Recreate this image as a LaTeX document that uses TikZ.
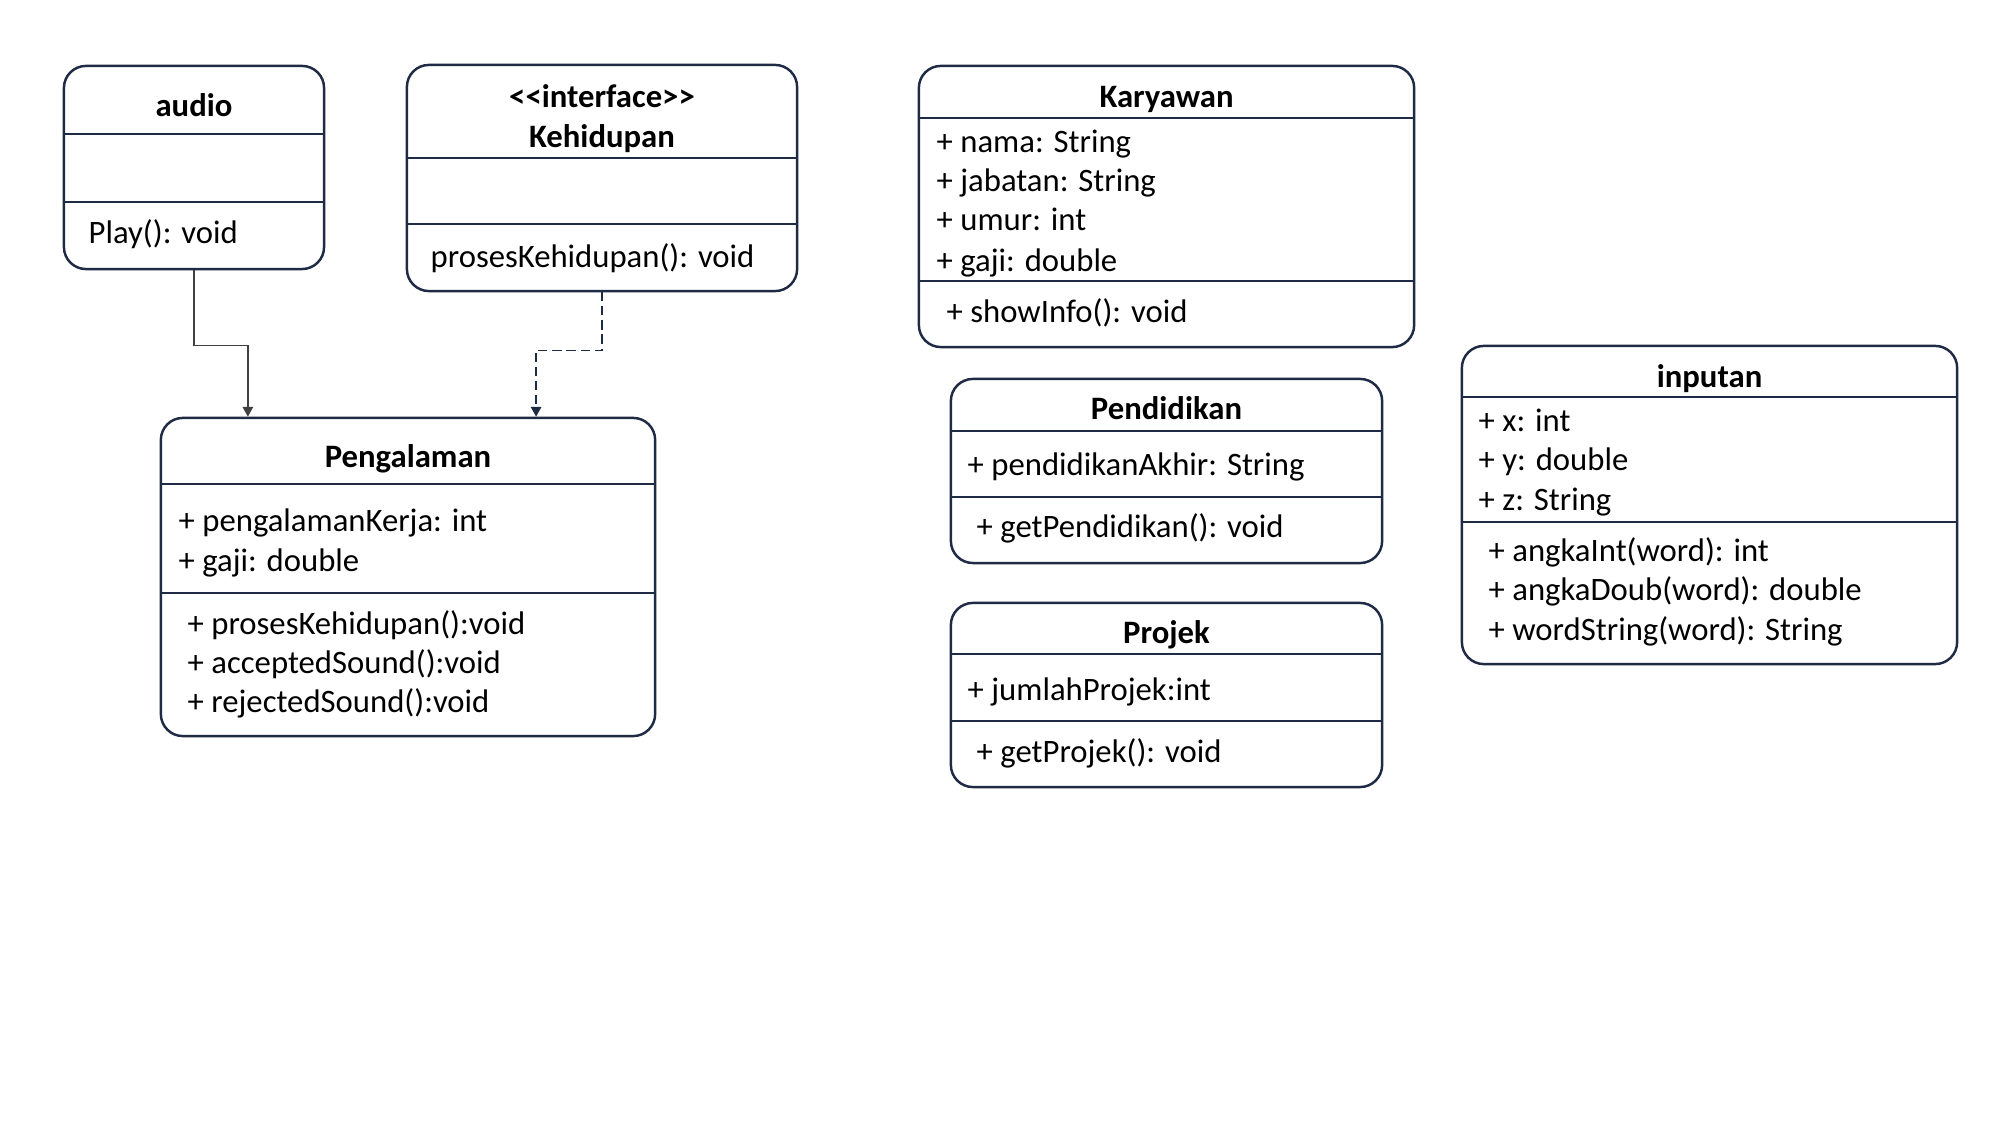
\documentclass[tikz,border=0pt]{standalone}
\usepackage{fontspec}
\setmainfont{Carlito}
\usetikzlibrary{arrows.meta}
\definecolor{umlline}{HTML}{1F2A44}
\begin{document}
\begin{tikzpicture}[x=0.01cm, y=-0.01cm,
    every node/.style={font=\fontsize{9.3}{11.2}\selectfont},
    class/.style={draw=umlline, line width=0.7pt, rounded corners=0.22cm, inner sep=0},
    divider/.style={draw=umlline, line width=0.7pt},
    classname/.style={font=\fontsize{9.3}{11.2}\selectfont\bfseries, inner sep=0, yshift=-0.8pt},
    member/.style={anchor=west, inner sep=0, yshift=-0.8pt},
    link/.style={draw=black!75, line width=0.4pt, -{Triangle[length=2.8pt,width=3pt]}},
    realize/.style={draw=umlline, line width=0.4pt, dash pattern=on 2.6pt off 1.4pt,
      -{Triangle[length=2.8pt,width=3pt]}}]
  \useasboundingbox (0,0) rectangle (2000,1125);
  % audio
  \node[class, minimum width=2.60cm, minimum height=2.03cm] (audio) at (194,167.5) {};
  \draw[divider] (audio.west |- 0,134) -- (audio.east |- 0,134);
  \draw[divider] (audio.west |- 0,202) -- (audio.east |- 0,202);
  \node[classname] (audio-t) at (194,106) {\strut{}audio};
  \node[member] (audio-m1) at (88,233) {\strut{}Play(): void};
  % interface Kehidupan
  \node[class, minimum width=3.90cm, minimum height=2.26cm] (kehidupan) at (602,178) {};
  \draw[divider] (kehidupan.west |- 0,158) -- (kehidupan.east |- 0,158);
  \draw[divider] (kehidupan.west |- 0,224) -- (kehidupan.east |- 0,224);
  \node[classname] (kehidupan-s) at (602,97) {\strut{}<\kern0pt<interface>\kern0pt>};
  \node[classname] (kehidupan-t) at (602,137) {\strut{}Kehidupan};
  \node[member] (kehidupan-m1) at (430,257) {\strut{}prosesKehidupan(): void};
  % Pengalaman
  \node[class, minimum width=4.94cm, minimum height=3.18cm] (pengalaman) at (408,577) {};
  \draw[divider] (pengalaman.west |- 0,484) -- (pengalaman.east |- 0,484);
  \draw[divider] (pengalaman.west |- 0,593) -- (pengalaman.east |- 0,593);
  \node[classname] (pengalaman-t) at (408,457) {\strut{}Pengalaman};
  \node[member] (pengalaman-a1) at (178,521) {\strut{}+ pengalamanKerja: int};
  \node[member] (pengalaman-a2) at (178,561) {\strut{}+ gaji: double};
  \node[member] (pengalaman-m1) at (187,624) {\strut{}+ prosesKehidupan():void};
  \node[member] (pengalaman-m2) at (187,663) {\strut{}+ acceptedSound():void};
  \node[member] (pengalaman-m3) at (187,702) {\strut{}+ rejectedSound():void};
  % Karyawan
  \node[class, minimum width=4.95cm, minimum height=2.81cm] (karyawan) at (1166.5,206.5) {};
  \draw[divider] (karyawan.west |- 0,118) -- (karyawan.east |- 0,118);
  \draw[divider] (karyawan.west |- 0,281) -- (karyawan.east |- 0,281);
  \node[classname] (karyawan-t) at (1166.5,97) {\strut{}Karyawan};
  \node[member] (karyawan-a1) at (936,142) {\strut{}+ nama: String};
  \node[member] (karyawan-a2) at (936,181) {\strut{}+ jabatan: String};
  \node[member] (karyawan-a3) at (936,220) {\strut{}+ umur: int};
  \node[member] (karyawan-a4) at (936,261) {\strut{}+ gaji: double};
  \node[member] (karyawan-m1) at (946,312) {\strut{}+ showInfo(): void};
  % Pendidikan
  \node[class, minimum width=4.31cm, minimum height=1.84cm] (pendidikan) at (1166.5,471) {};
  \draw[divider] (pendidikan.west |- 0,431) -- (pendidikan.east |- 0,431);
  \draw[divider] (pendidikan.west |- 0,497) -- (pendidikan.east |- 0,497);
  \node[classname] (pendidikan-t) at (1166.5,409) {\strut{}Pendidikan};
  \node[member] (pendidikan-a1) at (967,465) {\strut{}+ pendidikanAkhir: String};
  \node[member] (pendidikan-m1) at (976,527) {\strut{}+ getPendidikan(): void};
  % Projek
  \node[class, minimum width=4.31cm, minimum height=1.84cm] (projek) at (1166.5,695) {};
  \draw[divider] (projek.west |- 0,654) -- (projek.east |- 0,654);
  \draw[divider] (projek.west |- 0,721) -- (projek.east |- 0,721);
  \node[classname] (projek-t) at (1166.5,633) {\strut{}Projek};
  \node[member] (projek-a1) at (967,690) {\strut{}+ jumlahProjek:int};
  \node[member] (projek-m1) at (976,752) {\strut{}+ getProjek(): void};
  % inputan
  \node[class, minimum width=4.95cm, minimum height=3.18cm] (inputan) at (1709.5,505) {};
  \draw[divider] (inputan.west |- 0,397) -- (inputan.east |- 0,397);
  \draw[divider] (inputan.west |- 0,522) -- (inputan.east |- 0,522);
  \node[classname] (inputan-t) at (1709.5,377) {\strut{}inputan};
  \node[member] (inputan-a1) at (1478,421) {\strut{}+ x: int};
  \node[member] (inputan-a2) at (1478,460) {\strut{}+ y: double};
  \node[member] (inputan-a3) at (1478,500) {\strut{}+ z: String};
  \node[member] (inputan-m1) at (1488,551) {\strut{}+ angkaInt(word): int};
  \node[member] (inputan-m2) at (1488,590) {\strut{}+ angkaDoub(word): double};
  \node[member] (inputan-m3) at (1488,630) {\strut{}+ wordString(word): String};
  % relations
  \draw[link] (audio.south) -- ++(0,75) -| ([xshift=-1.60cm]pengalaman.north);
  \draw[realize] (kehidupan.south) -- ++(0,58) -| ([xshift=1.28cm]pengalaman.north);
\end{tikzpicture}
\end{document}
